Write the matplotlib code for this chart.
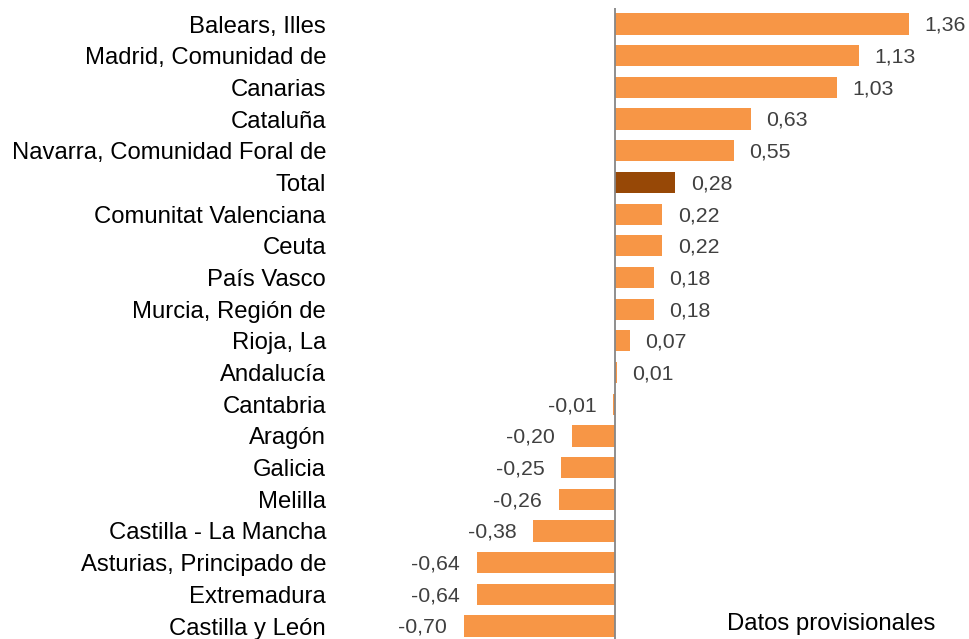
import matplotlib
matplotlib.use('Agg')
import matplotlib.pyplot as plt

regiones = ['Balears, Illes', 'Madrid, Comunidad de', 'Canarias', 'Cataluña',
            'Navarra, Comunidad Foral de', 'Total', 'Comunitat Valenciana', 'Ceuta',
            'País Vasco', 'Murcia, Región de', 'Rioja, La', 'Andalucía', 'Cantabria',
            'Aragón', 'Galicia', 'Melilla', 'Castilla - La Mancha',
            'Asturias, Principado de', 'Extremadura', 'Castilla y León']
valores = [1.36, 1.13, 1.03, 0.63, 0.55, 0.28, 0.22, 0.22, 0.18, 0.18, 0.07, 0.01,
           -0.01, -0.20, -0.25, -0.26, -0.38, -0.64, -0.64, -0.70]
nota = 'Datos provisionales'

plt.rcParams['font.family'] = ['Liberation Sans', 'DejaVu Sans']

fig = plt.figure(figsize=(9.69, 6.39), dpi=100)
ax = fig.add_axes([340/969, -0.0045, 629/969, 0.9917])

colores = ['#974806' if r == 'Total' else '#F79646' for r in regiones]
pos = list(range(len(regiones)))
ax.barh(pos, valores, height=0.67, color=colores)
ax.set_ylim(len(regiones) - 0.5, -0.5)
ax.set_xlim(-1.273, 1.639)
ax.axvline(0, color='#868686', lw=1.3)

ax.set_yticks(pos)
ax.set_yticklabels(regiones, fontsize=17.2, color='#000000')
ax.tick_params(axis='y', length=0, pad=10)
ax.set_xticks([])
for s in ax.spines.values():
    s.set_visible(False)

for i, v in enumerate(valores):
    txt = f'{v:.2f}'.replace('.', ',')
    if v >= 0:
        ax.annotate(txt, (v, i), xytext=(11, -1), textcoords='offset points',
                    ha='left', va='center', fontsize=15.3, color='#404040')
    else:
        ax.annotate(txt, (v, i), xytext=(-12, -1), textcoords='offset points',
                    ha='right', va='center', fontsize=15.3, color='#404040')

fig.text(727/969, 1 - 624/639, nota, ha='left', va='center', fontsize=17.2, color='#000000')

fig.savefig('out.png', dpi=100)
